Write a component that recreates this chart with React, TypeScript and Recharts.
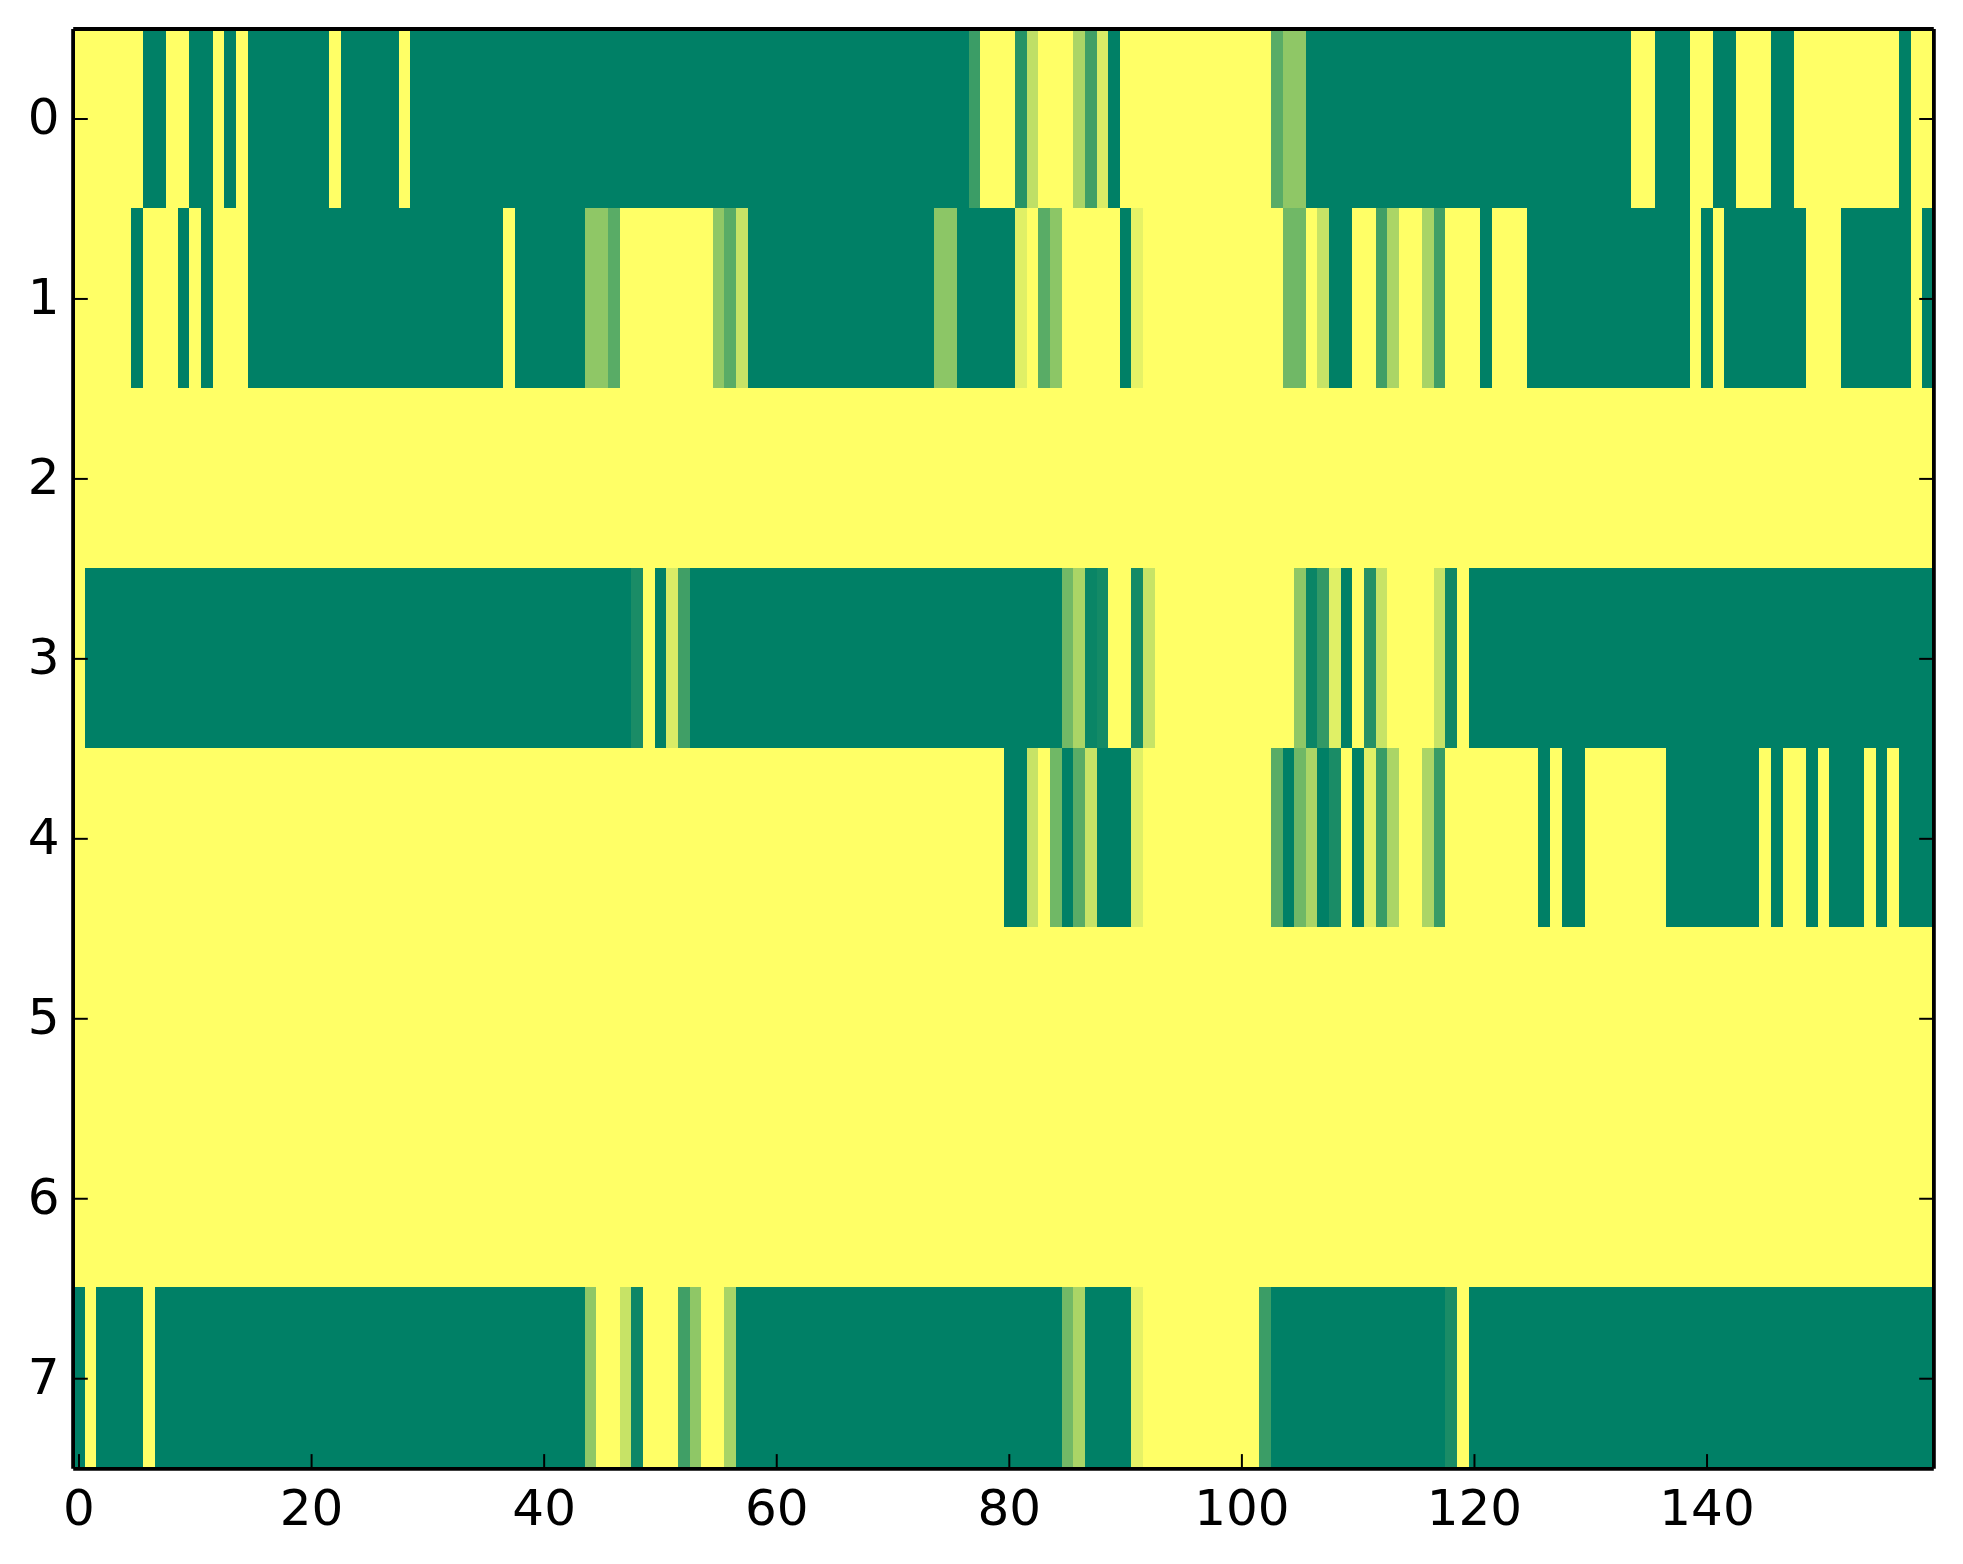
import React from 'react';
import { ScatterChart, Scatter, XAxis, YAxis } from 'recharts';

// each row is a list of [run length, value] read left to right off the picture
const row0 = [[6,1],[2,0],[2,1],[2,0],[1,1],[1,0],[1,1],[7,0],[1,1],[5,0],[1,1],[48,0],[1,.23],[3,1],[1,.15],[1,.75],[3,1],[1,.67],[1,.25],[1,.85],[1,0],[13,1],[1,.35],[2,.56],[28,0],[2,1],[3,0],[2,1],[2,0],[3,1],[2,0],[9,1],[1,0],[2,1]];
const row1 = [[5,1],[1,0],[3,1],[1,0],[1,1],[1,0],[3,1],[22,0],[1,1],[6,0],[2,.56],[1,.35],[8,1],[1,.56],[1,.35],[1,.78],[16,0],[2,.55],[5,0],[1,.88],[1,1],[1,.35],[1,.55],[5,1],[1,0],[1,.9],[12,1],[2,.44],[1,1],[1,.78],[2,0],[2,1],[1,.25],[1,.67],[2,1],[1,.66],[1,.25],[3,1],[1,0],[3,1],[14,0],[1,1],[1,0],[1,1],[7,0],[3,1],[6,0],[1,1],[1,0]];
const row2 = [[160,1]];
const row3 = [[1,1],[47,0],[1,.1],[1,1],[1,0],[1,.85],[1,.25],[32,0],[1,.45],[1,.67],[1,.04],[1,.08],[2,1],[1,.08],[1,.78],[12,1],[1,.56],[1,.04],[1,.2],[1,.88],[1,0],[1,1],[1,.14],[1,.78],[4,1],[1,.78],[1,.06],[1,1],[40,0]];
const row4 = [[80,1],[2,0],[1,.78],[1,1],[1,.44],[1,0],[1,.35],[1,.78],[3,0],[1,.88],[11,1],[1,.35],[1,0],[1,.44],[1,.67],[1,0],[1,.1],[1,1],[1,0],[1,.88],[1,.22],[1,.67],[2,1],[1,.67],[1,.22],[8,1],[1,0],[1,1],[2,0],[7,1],[8,0],[1,1],[1,0],[2,1],[1,0],[1,1],[3,0],[1,1],[1,0],[1,1],[3,0]];
const row5 = [[160,1]];
const row6 = [[160,1]];
const row7 = [[1,0],[1,1],[4,0],[1,1],[37,0],[1,.56],[2,1],[1,.78],[1,.05],[3,1],[1,.25],[1,.56],[2,1],[1,.66],[28,0],[1,.45],[1,.67],[4,0],[1,.9],[10,1],[1,.23],[15,0],[1,.1],[1,1],[40,0]];

const rows = [row0, row1, row2, row3, row4, row5, row6, row7];
const xTicks = [0, 20, 40, 60, 80, 100, 120, 140];
const yTicks = [0, 1, 2, 3, 4, 5, 6, 7];

const CELL_W = 1860.6 / 160;
const CELL_H = 180;
const TICK_LEN = 14.6;
const FONT = '"DejaVu Sans", sans-serif';

const cells = rows.flatMap((runs, y) => {
  const out: { x: number; y: number; v: number }[] = [];
  runs.forEach(([len, v]) => {
    for (let i = 0; i < len; i++) out.push({ x: out.length, y, v });
  });
  return out;
});

// same as matplotlib's summer colormap
function summer(v: number) {
  return `rgb(${Math.round(v * 255)}, ${Math.round((0.5 + v / 2) * 255)}, 102)`;
}

// the image sits a touch tighter than the axis in the reference
const rowEdge = (py: number) => Math.round(28.5 + ((py - 29) / CELL_H) * 179.8);

// cells paint over the axis lines, so stop them at the inner edge of the frame
function CellShape({ cx, cy, payload }: any) {
  const x0 = Math.max(75, Math.round(cx - CELL_W / 2));
  const x1 = Math.min(1932, Math.round(cx + CELL_W / 2));
  const y0 = Math.max(31, rowEdge(cy - CELL_H / 2));
  const y1 = payload.y === 7 ? 1467 : rowEdge(cy + CELL_H / 2);
  return <rect x={x0} y={y0} width={x1 - x0} height={y1 - y0} fill={summer(payload.v)} />;
}

function BottomTick({ x, y, payload }: any) {
  return (
    <g>
      <line x1={x} x2={x} y1={y} y2={y - TICK_LEN} stroke="#000" strokeWidth={2} />
      <text x={x} y={y + 56} textAnchor="middle" fontSize={50} fontFamily={FONT} fill="#000">
        {payload.value}
      </text>
    </g>
  );
}

function TopTick({ x, y }: any) {
  return <line x1={x} x2={x} y1={y} y2={y + TICK_LEN} stroke="#000" strokeWidth={2} />;
}

function LeftTick({ x, y, payload }: any) {
  return (
    <g>
      <line x1={x} x2={x + TICK_LEN} y1={y} y2={y} stroke="#000" strokeWidth={2} />
      <text x={x - 13.7} y={y + 15.5} textAnchor="end" fontSize={50} fontFamily={FONT} fill="#000">
        {payload.value}
      </text>
    </g>
  );
}

function RightTick({ x, y }: any) {
  return <line x1={x} x2={x - TICK_LEN} y1={y} y2={y} stroke="#000" strokeWidth={2} />;
}

const spine = { stroke: '#000', strokeWidth: 4 };

export default function App() {
  return (
    <div style={{ position: 'absolute', left: 0, top: 0, width: 1963, height: 1564, background: '#fff' }}>
      <ScatterChart width={1963} height={1564} margin={{ top: 0, right: 0, bottom: 0, left: 0 }}>
        <Scatter
          data={cells}
          xAxisId="bottom"
          yAxisId="left"
          dataKey="v"
          shape={CellShape}
          isAnimationActive={false}
        />
        <XAxis
          xAxisId="bottom"
          orientation="bottom"
          type="number"
          dataKey="x"
          height={95.3}
          domain={[-0.5, 159.5]}
          ticks={xTicks}
          interval={0}
          allowDataOverflow
          tickSize={0}
          tickMargin={0}
          tickLine={false}
          axisLine={spine}
          tick={BottomTick}
        />
        <XAxis
          xAxisId="top"
          orientation="top"
          type="number"
          height={29}
          domain={[-0.5, 159.5]}
          ticks={xTicks}
          interval={0}
          allowDataOverflow
          tickSize={0}
          tickMargin={0}
          tickLine={false}
          axisLine={spine}
          tick={TopTick}
        />
        <YAxis
          yAxisId="left"
          orientation="left"
          type="number"
          dataKey="y"
          width={73.2}
          reversed
          domain={[-0.5, 7.5]}
          ticks={yTicks}
          interval={0}
          allowDataOverflow
          tickSize={0}
          tickMargin={0}
          tickLine={false}
          axisLine={spine}
          tick={LeftTick}
        />
        <YAxis
          yAxisId="right"
          orientation="right"
          type="number"
          width={29.2}
          reversed
          domain={[-0.5, 7.5]}
          ticks={yTicks}
          interval={0}
          allowDataOverflow
          tickSize={0}
          tickMargin={0}
          tickLine={false}
          axisLine={spine}
          tick={RightTick}
        />
      </ScatterChart>
    </div>
  );
}
